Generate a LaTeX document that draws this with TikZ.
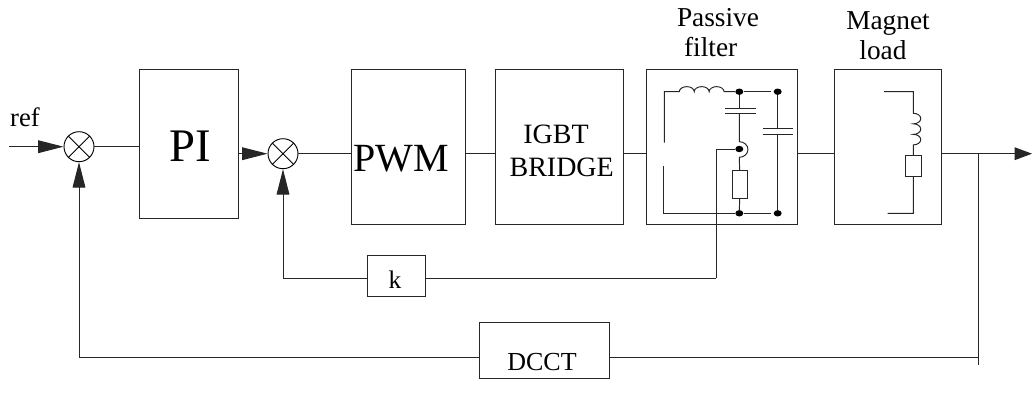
\documentclass[tikz,border=0pt]{standalone}
\usepackage{fontspec}
\setmainfont{Liberation Serif}
\usetikzlibrary{arrows.meta,fit,shapes.geometric}
\tikzset{
	wire/.style={black!85, line width=0.72pt},
	tipline/.style={wire, -{Triangle[length=19pt, width=9.5pt]}},
	block/.style={draw=black!85, line width=0.72pt, inner sep=0pt, fit={#1}},
	part/.style={draw=black!85, line width=0.72pt, inner sep=0pt, fit={#1}},
	junction/.style={ellipse, fill=black, inner sep=0pt, minimum width=6pt, minimum height=4.8pt},
	sumnode/.style={circle, draw=black, line width=0.7pt, inner sep=0pt, minimum size=22.5pt,
		path picture={
			\draw[line width=0.6pt] (path picture bounding box.north west) -- (path picture bounding box.south east);
			\draw[line width=0.6pt] (path picture bounding box.north east) -- (path picture bounding box.south west);
		}},
	label/.style={inner sep=0pt, anchor=base, font=\fontsize{#1}{#1}\selectfont},
}
\begin{document}
\begin{tikzpicture}[x=0.75pt, y=-0.75pt]
	\useasboundingbox (0, 0) rectangle (1032, 393);

	% main blocks
	\node[block={(139, 69) (238, 218)}] (pi) {};
	\node[block={(351, 69) (465, 224)}] (pwm) {};
	\node[block={(495, 69) (623, 224)}] (igbt) {};
	\node[block={(646, 69) (797, 224)}] (filter) {};
	\node[block={(834, 69) (941, 224)}] (magnet) {};
	\node[block={(367, 255) (425, 296)}] (k) {};
	\node[block={(479, 322) (609, 378)}] (dcct) {};

	\node[sumnode] (suma) at (79, 146.7) {};
	\node[sumnode] (sumb) at (283, 153.7) {};

	% labels
	\node[label=20] (reftext) at (25, 126) {ref};
	\node[label=35] (pitext) at (190.3, 161.5) {PI};
	\node[label=30] (pwmtext) at (401.3, 171.5) {PWM};
	\node[label=21] (igbttext) at (556, 143.3) {IGBT};
	\node[label=21] (bridgetext) at (561.7, 176) {BRIDGE};
	\node[label=19] (ktext) at (395, 288) {k};
	\node[label=19.5] (dccttext) at (542, 370) {DCCT};
	\node[label=20.5] (passivetext) at (718, 26) {Passive};
	\node[label=20.5] (filtertext) at (710.7, 56) {filter};
	\node[label=20.5] (magnettext) at (888, 29) {Magnet};
	\node[label=20.5] (loadtext) at (883, 59) {load};

	\coordinate (refin) at (9, 146.7);
	\coordinate (out) at (1032, 153.7);
	\coordinate (tap) at (978, 153.7);
	\coordinate (tapend) at (978, 365);
	\coordinate (dccr) at (978, 357);
	\coordinate (dccl) at (79, 357);
	\coordinate (fbcorner) at (716, 149);
	\coordinate (fbdown) at (716, 278);
	\coordinate (sumdown) at (283, 278);

	% signal path
	\draw[tipline] (refin) -- (suma);
	\draw[wire] (suma) -- (suma -| pi.west);
	\draw[tipline] (sumb -| pi.east) -- (sumb);
	\draw[wire] (sumb) -- (sumb -| pwm.west);
	\draw[wire] (sumb -| pwm.east) -- (sumb -| igbt.west);
	\draw[wire] (sumb -| igbt.east) -- (sumb -| filter.west);
	\draw[wire] (sumb -| filter.east) -- (sumb -| magnet.west);
	\draw[wire] (sumb -| magnet.east) -- (tap);
	\draw[wire, -{Triangle[length=13pt, width=9.5pt]}] (tap) -- (out);

	% feedback
	\draw[wire] (tap) -- (tapend);
	\draw[wire] (dccr) -- (dccr -| dcct.east);
	\draw[wire] (dccr -| dcct.west) -- (dccl);
	\draw[tipline] (dccl) -- (suma);
	\draw[wire] (fbdown -| k.east) -- (fbdown);
	\draw[wire] (fbdown -| k.west) -- (sumdown);
	\draw[tipline] (sumdown) -- (sumb);

	% passive filter
	\node[junction] (fa) at (739.3, 91.7) {};
	\node[junction] (fb) at (777.7, 91.7) {};
	\node[junction] (fc) at (739.3, 149) {};
	\node[junction] (fd) at (739.3, 213.3) {};
	\node[junction] (fe) at (777.7, 213.3) {};
	\node[part={(732.7, 170.7) (747.3, 198)}] (fres) {};
	\coordinate (fcapa) at (739.3, 108.3);
	\coordinate (fcapb) at (739.3, 113.3);
	\coordinate (fcapc) at (777.7, 128.3);
	\coordinate (fcapd) at (777.7, 134.3);

	\draw[wire] (664.3, 142.7) -- (664.3, 91.7) -- (679.3, 91.7)
		foreach \i in {1, 2, 3} {arc[start angle=180, end angle=0, x radius=5.6pt, y radius=3.8pt]}
		-- (fa);
	\draw[wire] (fa) -- (770.7, 91.7);
	\draw[wire] (663.7, 166) -- (663.7, 213.3) -- (fd);
	\draw[wire] (fd) -- (770.7, 213.3);
	\draw[wire] (fa) -- (fcapa);
	\draw[wire] (725, 108.3) -- (755.7, 108.3);
	\draw[wire] (725, 113.3) -- (755.7, 113.3);
	\draw[wire] (fcapb) -- (739.3, 141.7) arc[start angle=90, end angle=-90, x radius=6.5pt, y radius=5.85pt] -- (fres);
	\draw[wire] (fres) -- (fd);
	\draw[wire] (fb) -- (fcapc);
	\draw[wire] (762.7, 128.3) -- (793.3, 128.3);
	\draw[wire] (762.7, 134.3) -- (793.3, 134.3);
	\draw[wire] (fcapd) -- (fe);
	\draw[wire] (fc) -- (fbcorner) -- (fbdown);

	% magnet load
	\node[part={(905.7, 155.7) (921.3, 176.7)}] (mres) {};
	\draw[wire] (884, 91.7) -- (913.3, 91.7) -- (913.3, 113.3)
		foreach \i in {1, 2, 3} {arc[start angle=90, end angle=-90, x radius=5.6pt, y radius=3.95pt]}
		-- (mres);
	\draw[wire] (mres) -- (913.3, 213.3) -- (887.7, 213.3);
\end{tikzpicture}
\end{document}
